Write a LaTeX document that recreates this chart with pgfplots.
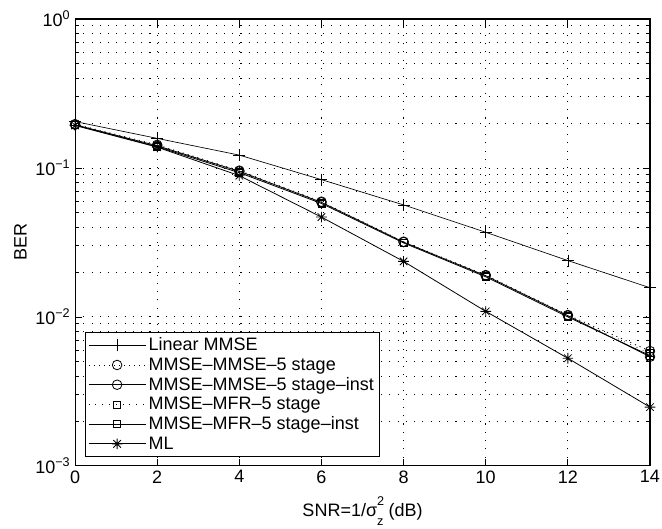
\documentclass[border=0pt]{standalone}
\usepackage{fontspec}
\setmainfont{Liberation Sans}
\usepackage{pgfplots}
\pgfplotsset{compat=1.18}

% eight-armed star marker
\pgfdeclareplotmark{mstar}{%
  \pgfpathmoveto{\pgfqpoint{-\pgfplotmarksize}{0pt}}\pgfpathlineto{\pgfqpoint{\pgfplotmarksize}{0pt}}%
  \pgfpathmoveto{\pgfqpoint{0pt}{-\pgfplotmarksize}}\pgfpathlineto{\pgfqpoint{0pt}{\pgfplotmarksize}}%
  \pgfpathmoveto{\pgfqpoint{-.707\pgfplotmarksize}{-.707\pgfplotmarksize}}\pgfpathlineto{\pgfqpoint{.707\pgfplotmarksize}{.707\pgfplotmarksize}}%
  \pgfpathmoveto{\pgfqpoint{-.707\pgfplotmarksize}{.707\pgfplotmarksize}}\pgfpathlineto{\pgfqpoint{.707\pgfplotmarksize}{-.707\pgfplotmarksize}}%
  \pgfusepathqstroke}

\newcommand{\smallidx}[1]{{\fontsize{9.5}{9.5}\selectfont #1}}

\begin{document}
\begin{tikzpicture}
\begin{semilogyaxis}[
  scale only axis,
  width=431pt, height=335pt,
  xmin=0, xmax=14, ymin=1e-3, ymax=1,
  xtick={0,2,...,14},
  ytick={1e-3,1e-2,1e-1,1},
  yticklabels={10\textsuperscript{−3},10\textsuperscript{−2},10\textsuperscript{−1},10\textsuperscript{0}},
  /pgf/number format/assume math mode=true,
  font=\fontsize{13.5}{16}\selectfont,
  tick align=inside,
  major tick length=5pt, minor tick length=3pt,
  xtick pos=both, ytick pos=both,
  xmajorgrids, ymajorgrids, yminorgrids,
  major grid style={black, line width=0.7pt, dash pattern=on 0.8pt off 5.4pt},
  minor grid style={black, line width=0.7pt, dash pattern=on 0.8pt off 5.4pt},
  axis line style={black, line width=0.8pt},
  tick style={black, line width=0.6pt},
  xlabel={SNR=1/σ\rlap{\raisebox{0.62em}{\smallidx{2}}}\raisebox{-0.5em}{\smallidx{z}} (dB)},
  ylabel={BER},
  every axis x label/.style={at={(axis description cs:0.5,0)}, anchor=center, yshift=-34pt},
  every axis y label/.style={at={(axis description cs:0,0.5)}, xshift=-41pt, rotate=90, anchor=center},
  legend cell align=left,
  legend style={at={(0.0174,0.02)}, anchor=south west, draw=black, line width=0.8pt,
    fill=white, font=\fontsize{13.5}{16}\selectfont, row sep=-0.3pt,
    inner xsep=2pt, inner ysep=2pt},
  legend image code/.code={%
    \draw[mark repeat=2, mark phase=2, #1] plot coordinates {(0cm,0cm) (0.75cm,0cm) (1.5cm,0cm)};},
  every axis plot/.append style={black, line width=0.6pt},
]
% Linear MMSE
\addplot[line width=0.5pt, mark=+, mark size=4.5pt, mark options={solid}] coordinates {
  (0,0.205) (2,0.158) (4,0.122) (6,0.0835) (8,0.0565) (10,0.037) (12,0.0239) (14,0.0157)};
% MMSE-MMSE-5 stage
\addplot[dash pattern=on 0.8pt off 3pt, mark=o, mark size=3.6pt, mark options={solid}] coordinates {
  (0,0.197) (2,0.143) (4,0.096) (6,0.0594) (8,0.0320) (10,0.0191) (12,0.0103) (14,0.0059)};
% MMSE-MMSE-5 stage-inst
\addplot[mark=o, mark size=3.6pt, mark options={solid}] coordinates {
  (0,0.195) (2,0.141) (4,0.095) (6,0.0588) (8,0.0318) (10,0.0189) (12,0.0102) (14,0.0054)};
% MMSE-MFR-5 stage
\addplot[dash pattern=on 0.6pt off 4.5pt, line width=0.5pt, mark=square, mark size=2.6pt, mark options={solid}] coordinates {
  (0,0.196) (2,0.140) (4,0.094) (6,0.0580) (8,0.0316) (10,0.0188) (12,0.0101) (14,0.0057)};
% MMSE-MFR-5 stage-inst
\addplot[mark=square, mark size=2.6pt, mark options={solid}] coordinates {
  (0,0.194) (2,0.139) (4,0.093) (6,0.0578) (8,0.0314) (10,0.0186) (12,0.0100) (14,0.0055)};
% ML
\addplot[mark=mstar, mark size=4pt, mark options={solid}] coordinates {
  (0,0.193) (2,0.138) (4,0.0888) (6,0.0468) (8,0.0236) (10,0.0109) (12,0.00528) (14,0.00248)};
\legend{Linear MMSE, MMSE--MMSE--5 stage, MMSE--MMSE--5 stage--inst,
  MMSE--MFR--5 stage, MMSE--MFR--5 stage--inst, ML}
\end{semilogyaxis}
% page frame around the axis
\pgfresetboundingbox
\path[use as bounding box] ([shift={(-56.25pt,-47pt)}]current axis.south west)
  rectangle ([shift={(9pt,14.25pt)}]current axis.north east);
\end{tikzpicture}
\end{document}
